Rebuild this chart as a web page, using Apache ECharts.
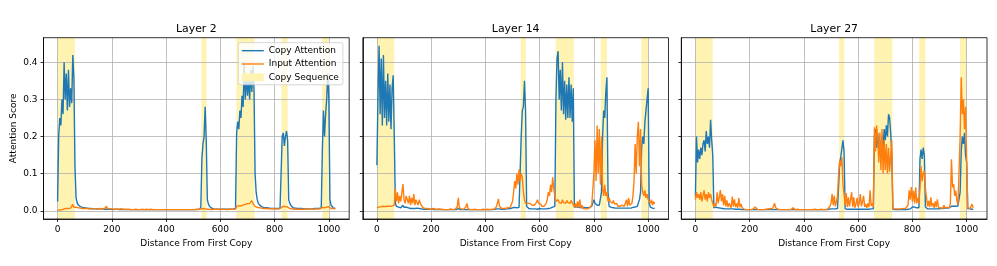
<!DOCTYPE html>
<html><head><meta charset="utf-8">
<script src="https://cdn.jsdelivr.net/npm/echarts@6/dist/echarts.min.js"></script>
<style>html,body{margin:0;padding:0;background:#fff}#c{width:997px;height:266px}</style>
</head><body><div id="c"></div><script>
const layerNames=['Layer 2','Layer 14','Layer 27'];
const xTicks=[0,200,400,600,800,1000];
const yTicks=[0,0.1,0.2,0.3,0.4];
const copySpans=[[0,64],[530,549],[659,726],[825,848],[975,1000]];
const xPositions=[
0,4,8,12,16,20,24,28,32,36,40,44,48,52,56,60,
64,68,72,76,80,84,88,92,96,100,104,108,112,116,120,124,
128,132,136,140,144,148,152,156,160,164,168,172,176,180,184,188,
192,196,200,204,208,212,216,220,224,228,232,236,240,244,248,252,
256,260,264,268,272,276,280,284,288,292,296,300,304,308,312,316,
320,324,328,332,336,340,344,348,352,356,360,364,368,372,376,380,
384,388,392,396,400,404,408,412,416,420,424,428,432,436,440,444,
448,452,456,460,464,468,472,476,480,484,488,492,496,500,504,508,
512,516,520,524,528,532,536,540,544,548,552,556,560,564,568,572,
576,580,584,588,592,596,600,604,608,612,616,620,624,628,632,636,
640,644,648,652,656,660,664,668,672,676,680,684,688,692,696,700,
704,708,712,716,720,724,728,732,736,740,744,748,752,756,760,764,
768,772,776,780,784,788,792,796,800,804,808,812,816,820,824,828,
832,836,840,844,848,852,856,860,864,868,872,876,880,884,888,892,
896,900,904,908,912,916,920,924,928,932,936,940,944,948,952,956,
960,964,968,972,976,980,984,988,992,996,1000,1004,1008,1012,1016,1020,
1024];
const layer2Copy=[
.025,.2,.25,.23,.3,.26,.4,.3,.37,.27,.38,.28,.33,.29,.42,.36,
.12,.035,.022,.016,.013,.011,.01,.009,.008,.008,.007,.007,.007,.006,.006,.006,
.006,.005,.006,.005,.005,.005,.005,.005,.004,.005,.004,.004,.004,.004,.004,.004,
.004,.004,.004,.003,.004,.004,.003,.004,.004,.003,.003,.004,.003,.003,.003,.003,
.003,.003,.003,.003,.003,.003,.003,.003,.003,.003,.003,.003,.003,.003,.003,.003,
.003,.003,.003,.003,.003,.003,.003,.003,.003,.003,.003,.003,.003,.003,.003,.003,
.003,.003,.003,.003,.003,.003,.003,.003,.003,.003,.003,.003,.003,.003,.003,.003,
.003,.003,.003,.003,.003,.003,.003,.003,.003,.003,.003,.003,.003,.003,.003,.003,
.003,.003,.004,.004,.01,.14,.18,.2,.28,.19,.03,.018,.012,.009,.007,.006,
.005,.005,.004,.004,.004,.004,.004,.004,.004,.004,.004,.004,.004,.004,.004,.004,
.004,.004,.004,.005,.006,.21,.24,.22,.27,.25,.31,.28,.4,.3,.37,.31,
.36,.3,.38,.32,.39,.33,.1,.05,.03,.02,.016,.013,.011,.01,.009,.008,
.008,.008,.007,.007,.007,.006,.006,.006,.006,.006,.006,.006,.006,.006,.008,.2,
.21,.175,.2,.215,.19,.03,.02,.014,.01,.008,.007,.007,.006,.006,.006,.006,
.006,.006,.005,.005,.005,.005,.005,.005,.005,.005,.005,.005,.006,.006,.006,.006,
.006,.006,.007,.008,.16,.27,.2,.26,.3,.37,.3,.03,.015,.01,.008,.007,
.006];
const layer2Input=[
.001,.002,.002,.003,.003,.004,.005,.005,.006,.007,.006,.008,.007,.009,.017,.009,
.008,.01,.007,.008,.006,.007,.006,.006,.005,.006,.005,.006,.005,.005,.004,.005,
.005,.005,.004,.005,.005,.004,.005,.006,.005,.005,.004,.005,.006,.012,.006,.005,
.005,.004,.005,.004,.004,.005,.004,.004,.004,.004,.005,.004,.004,.004,.004,.004,
.004,.003,.004,.004,.003,.004,.003,.003,.004,.003,.003,.004,.003,.003,.004,.003,
.003,.003,.004,.003,.003,.003,.004,.003,.003,.003,.003,.004,.003,.003,.003,.003,
.003,.003,.003,.003,.003,.003,.003,.003,.003,.003,.003,.003,.003,.003,.003,.003,
.003,.003,.003,.003,.003,.003,.003,.003,.003,.003,.003,.004,.003,.003,.003,.004,
.004,.004,.004,.004,.005,.007,.006,.008,.005,.007,.004,.004,.004,.004,.003,.004,
.004,.003,.004,.003,.004,.003,.003,.004,.004,.003,.004,.004,.003,.004,.004,.004,
.004,.004,.004,.004,.005,.012,.01,.014,.009,.013,.011,.015,.012,.017,.013,.019,
.014,.02,.016,.027,.02,.022,.012,.01,.009,.008,.008,.007,.007,.006,.006,.006,
.006,.006,.005,.006,.005,.005,.006,.005,.005,.006,.005,.006,.005,.006,.008,.01,
.012,.009,.011,.008,.01,.007,.006,.005,.005,.005,.004,.005,.004,.005,.004,.004,
.004,.005,.004,.005,.004,.005,.004,.006,.005,.004,.005,.006,.004,.005,.005,.006,
.005,.006,.005,.006,.009,.011,.008,.012,.01,.009,.011,.007,.006,.005,.006,.005,
.005];
const layer14Copy=[
.123,.31,.445,.26,.41,.23,.42,.25,.35,.23,.37,.24,.34,.22,.33,.365,
.2,.02,.012,.015,.01,.012,.008,.01,.015,.009,.008,.01,.007,.008,.007,.006,
.007,.006,.008,.006,.006,.007,.005,.006,.005,.005,.005,.004,.004,.004,.004,.004,
.004,.004,.003,.004,.004,.003,.004,.003,.003,.004,.003,.003,.004,.003,.003,.003,
.003,.003,.003,.003,.004,.003,.003,.003,.003,.003,.004,.006,.003,.003,.003,.003,
.003,.003,.003,.003,.003,.003,.003,.003,.003,.003,.003,.003,.003,.003,.003,.003,
.003,.003,.003,.003,.003,.003,.003,.003,.003,.003,.003,.003,.003,.004,.004,.005,
.006,.005,.004,.004,.004,.004,.004,.005,.005,.005,.006,.006,.007,.008,.007,.009,
.01,.008,.01,.009,.012,.2,.27,.28,.35,.27,.012,.008,.006,.005,.005,.005,
.005,.004,.005,.005,.004,.005,.006,.005,.005,.006,.005,.006,.005,.006,.006,.007,
.007,.008,.01,.009,.012,.3,.41,.43,.3,.38,.27,.4,.26,.35,.245,.34,
.25,.36,.25,.34,.24,.33,.01,.012,.01,.015,.01,.012,.008,.01,.009,.008,
.008,.007,.008,.007,.009,.01,.012,.015,.03,.02,.025,.015,.02,.015,.018,.05,
.2,.27,.25,.32,.36,.05,.012,.01,.009,.008,.008,.007,.007,.008,.007,.007,
.007,.006,.007,.006,.007,.008,.007,.006,.007,.008,.007,.008,.009,.008,.01,.012,
.012,.015,.03,.05,.17,.2,.18,.24,.27,.3,.33,.02,.01,.008,.007,.006,
.006];
const layer14Input=[
.008,.012,.01,.014,.011,.013,.012,.015,.011,.014,.012,.013,.012,.015,.013,.014,
.015,.06,.025,.05,.02,.04,.025,.03,.072,.03,.02,.04,.045,.02,.04,.015,
.035,.02,.045,.015,.03,.035,.015,.03,.02,.025,.01,.008,.006,.005,.006,.004,
.005,.004,.004,.005,.006,.004,.004,.003,.004,.005,.004,.003,.004,.004,.003,.004,
.003,.004,.003,.003,.005,.004,.003,.005,.004,.006,.01,.035,.008,.004,.005,.004,
.004,.006,.01,.02,.006,.004,.003,.004,.003,.003,.004,.003,.003,.004,.003,.003,
.003,.003,.004,.003,.003,.003,.004,.003,.003,.004,.004,.005,.004,.006,.01,.02,
.032,.012,.008,.006,.007,.006,.008,.007,.01,.008,.012,.01,.015,.025,.05,.08,
.06,.1,.07,.112,.08,.1,.09,.05,.03,.02,.018,.02,.015,.02,.018,.015,
.02,.015,.018,.022,.03,.02,.015,.018,.012,.015,.012,.014,.02,.03,.05,.04,
.07,.05,.09,.06,.04,.025,.02,.03,.022,.025,.02,.03,.022,.025,.02,.028,
.022,.025,.02,.028,.022,.025,.01,.02,.008,.025,.01,.03,.008,.015,.006,.008,
.005,.006,.005,.006,.008,.01,.015,.02,.1,.19,.08,.23,.1,.22,.07,.2,
.06,.04,.07,.04,.05,.025,.035,.025,.03,.02,.028,.018,.015,.02,.012,.015,
.012,.01,.015,.01,.012,.01,.03,.012,.034,.015,.01,.02,.04,.08,.18,.1,
.2,.24,.12,.22,.07,.05,.04,.055,.035,.045,.03,.035,.02,.03,.015,.025,
.018];
const layer27Copy=[
.038,.2,.13,.165,.14,.17,.15,.18,.19,.16,.215,.18,.2,.17,.245,.19,
.15,.008,.006,.01,.007,.008,.006,.007,.009,.006,.008,.005,.007,.005,.006,.005,
.005,.005,.004,.005,.004,.004,.004,.004,.004,.004,.004,.003,.004,.003,.003,.003,
.003,.003,.003,.003,.003,.003,.003,.003,.003,.003,.003,.003,.003,.003,.003,.003,
.003,.003,.003,.003,.003,.003,.003,.003,.003,.003,.003,.003,.003,.003,.003,.003,
.003,.003,.003,.003,.003,.003,.003,.003,.003,.003,.003,.003,.003,.003,.003,.003,
.003,.003,.003,.003,.003,.003,.003,.003,.003,.003,.003,.003,.003,.003,.003,.003,
.003,.003,.003,.003,.003,.003,.003,.003,.003,.003,.004,.004,.004,.005,.005,.005,
.005,.005,.006,.006,.01,.13,.145,.15,.19,.16,.005,.005,.004,.004,.004,.004,
.004,.004,.004,.004,.004,.004,.004,.004,.004,.004,.004,.004,.004,.004,.004,.004,
.004,.004,.005,.004,.005,.2,.22,.17,.21,.16,.19,.14,.2,.17,.22,.19,
.23,.2,.26,.25,.21,.15,.004,.003,.003,.003,.003,.003,.003,.003,.003,.003,
.003,.003,.003,.004,.004,.005,.005,.008,.01,.008,.01,.007,.008,.006,.008,.14,
.165,.14,.17,.15,.01,.006,.005,.005,.005,.005,.005,.005,.005,.005,.005,.005,
.005,.005,.006,.005,.006,.006,.007,.006,.007,.008,.008,.01,.012,.01,.012,.013,
.012,.014,.013,.015,.05,.16,.2,.18,.21,.15,.13,.006,.005,.005,.004,.004,
.004];
const layer27Input=[
.03,.05,.035,.045,.03,.05,.025,.04,.055,.03,.045,.025,.05,.035,.045,.03,
.02,.01,.02,.012,.05,.02,.036,.056,.025,.045,.015,.04,.012,.028,.01,.02,
.018,.008,.038,.012,.031,.01,.02,.008,.034,.01,.018,.009,.005,.004,.006,.003,
.004,.003,.005,.003,.006,.004,.008,.01,.006,.004,.007,.003,.004,.003,.004,.003,
.003,.004,.003,.005,.004,.006,.003,.005,.012,.02,.008,.005,.004,.006,.003,.004,
.003,.004,.003,.005,.003,.004,.003,.004,.003,.003,.008,.004,.003,.003,.004,.003,
.003,.003,.003,.004,.003,.003,.003,.004,.003,.003,.003,.003,.003,.008,.004,.003,
.003,.004,.003,.003,.004,.003,.003,.004,.003,.004,.005,.008,.012,.02,.045,.015,
.04,.012,.025,.04,.1,.135,.12,.144,.07,.045,.015,.048,.01,.036,.012,.03,
.05,.01,.036,.008,.018,.035,.01,.02,.045,.012,.025,.04,.01,.018,.008,.02,
.01,.055,.013,.02,.01,.225,.16,.23,.2,.13,.21,.11,.22,.1,.19,.11,
.18,.1,.17,.105,.15,.19,.005,.006,.005,.006,.005,.006,.005,.006,.005,.006,
.006,.005,.007,.006,.015,.055,.03,.064,.025,.054,.02,.063,.02,.035,.02,.06,
.12,.08,.1,.108,.06,.036,.012,.027,.01,.036,.012,.02,.008,.025,.01,.031,
.01,.015,.008,.012,.006,.015,.008,.006,.01,.012,.008,.02,.139,.063,.072,.04,
.054,.027,.015,.02,.2,.36,.26,.3,.22,.28,.14,.008,.005,.006,.01,.018,
.008];
const copySeries=[layer2Copy,layer14Copy,layer27Copy];
const inputSeries=[layer2Input,layer14Input,layer27Input];

const FONT='DejaVu Sans';
const BLUE='#1f77b4', ORANGE='#ff7f0e', SPAN='#fff3b2';
const gridLefts=[43.5,362.8,681.3];
const GW=305.7, GT=37.7, GH=181.3;
const linePath='path://M0,0H22V1.4H0Z';

const grids=[],xAxes=[],yAxes=[],series=[],graphics=[];
layerNames.forEach((nm,i)=>{
  grids.push({left:gridLefts[i],top:GT,width:GW,height:GH,show:true,borderColor:'#000',borderWidth:0.8,backgroundColor:'transparent',z:5});
  xAxes.push({gridIndex:i,type:'value',min:-52,max:1075,z:1.5,
    name:'Distance From First Copy',nameLocation:'middle',nameGap:17,
    nameTextStyle:{fontFamily:FONT,fontSize:9,color:'#000'},
    axisLine:{onZero:false,lineStyle:{color:'#000',width:0.8}},
    axisTick:{show:true,length:3,customValues:xTicks,lineStyle:{color:'#000',width:0.8}},
    axisLabel:{customValues:xTicks,fontFamily:FONT,fontSize:9,color:'#000',margin:6.5,formatter:v=>String(Math.round(v))},
    splitLine:{show:true,lineStyle:{color:'#b0b0b0',width:0.8}}});
  yAxes.push({gridIndex:i,type:'value',min:-0.0222,max:0.4664,z:1.5,
    name:i===0?'Attention Score':'',nameLocation:'middle',nameGap:25,
    nameTextStyle:{fontFamily:FONT,fontSize:9,color:'#000'},
    axisLine:{onZero:false,lineStyle:{color:'#000',width:0.8}},
    axisTick:{show:true,length:3,customValues:yTicks,lineStyle:{color:'#000',width:0.8}},
    axisLabel:{show:i===0,customValues:yTicks,fontFamily:FONT,fontSize:9,color:'#000',margin:6,formatter:v=>v.toFixed(1)},
    splitLine:{show:true,lineStyle:{color:'#b0b0b0',width:0.8}}});
  series.push({type:'custom',name:'Copy Sequence',xAxisIndex:i,yAxisIndex:i,z:1,silent:true,
    itemStyle:{color:SPAN},data:copySpans,encode:{x:[0,1]},
    renderItem:(params,api)=>{
      const a=api.coord([api.value(0),0]),b=api.coord([api.value(1),0]);
      const cs=params.coordSys;
      return {type:'rect',shape:{x:a[0],y:cs.y,width:b[0]-a[0],height:cs.height},style:{fill:SPAN}};
    }});
  series.push({type:'line',name:'Copy Attention',xAxisIndex:i,yAxisIndex:i,z:2,showSymbol:false,symbol:'none',
    color:BLUE,lineStyle:{color:BLUE,width:1.4},data:xPositions.map((x,k)=>[x,copySeries[i][k]])});
  series.push({type:'line',name:'Input Attention',xAxisIndex:i,yAxisIndex:i,z:2.1,showSymbol:false,symbol:'none',
    color:ORANGE,lineStyle:{color:ORANGE,width:1.4},data:xPositions.map((x,k)=>[x,inputSeries[i][k]])});
  graphics.push({type:'text',x:gridLefts[i]+GW/2,y:29.5,style:{text:nm,fill:'#000',font:'10.9px "DejaVu Sans"',textAlign:'center',textVerticalAlign:'middle'}});
});

const chart=echarts.init(document.getElementById('c'),null,{renderer:'canvas'});
chart.setOption({
  animation:false,
  textStyle:{fontFamily:FONT},
  grid:grids,xAxis:xAxes,yAxis:yAxes,series:series,graphic:graphics,
  legend:{left:238.3,top:42.7,orient:'vertical',itemWidth:22,itemHeight:8,itemGap:4.3,
    padding:[3.5,4,3,3.5],backgroundColor:'rgba(255,255,255,0.8)',borderColor:'#cccccc',borderWidth:0.8,borderRadius:2,
    textStyle:{fontFamily:FONT,fontSize:9,color:'#000'},selectedMode:false,
    data:[{name:'Copy Attention',icon:linePath},{name:'Input Attention',icon:linePath},{name:'Copy Sequence',icon:'rect',itemStyle:{color:SPAN}}]}
});
</script></body></html>
